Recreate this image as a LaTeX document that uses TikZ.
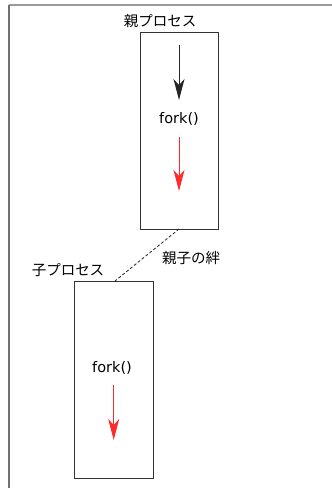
\documentclass[tikz,border=0pt]{standalone}
\usepackage{fontspec}
\setmainfont{DejaVu Sans}
\newfontfamily\jp{Noto Sans CJK JP}
\usetikzlibrary{arrows.meta}
\definecolor{arrred}{HTML}{FF2A2A}
\definecolor{framegray}{HTML}{707070}
\tikzset{
  procbox/.style={draw=black!80, line width=0.9pt, minimum width=78pt, inner sep=0pt},
  lbl/.style={font=\fontsize{14.5}{16}\selectfont\jp, inner sep=0pt, anchor=base},
  codelbl/.style={font=\fontsize{14.5}{16}\selectfont, inner sep=0pt, anchor=base},
  flow/.style={line width=1pt, -{Stealth[length=21pt, width=11pt, inset=6pt]}},
}
\begin{document}
\begin{tikzpicture}[x=1pt, y=-1pt]
\useasboundingbox (0,0) rectangle (332,488);
% frame
\coordinate (ftl) at (8.5,5);
\coordinate (ftr) at (332,5);
\coordinate (fbl) at (8.5,488);
\draw[framegray!70, line width=1.3pt] (ftl) -- (ftr);
\draw[framegray, line width=2pt] (ftl) -- (fbl);
% parent
\node[procbox, minimum height=197pt] (parent) at (179,130.5) {};
\node[lbl] (plabel) at (160,26) {親プロセス};
\coordinate (pa1) at (179,45);
\coordinate (pa2) at (179,100);
\draw[flow, black!85] (pa1) -- (pa2);
\node[codelbl] (pfork) at (179,123) {fork()};
\coordinate (pr1) at (179,137);
\coordinate (pr2) at (179,191);
\draw[flow, arrred] (pr1) -- (pr2);
% child
\node[procbox, minimum width=79pt, minimum height=197pt] (child) at (113.8,379.5) {};
\node[lbl] (clabel) at (68,275) {子プロセス};
\node[codelbl] (cfork) at (112,372) {fork()};
\coordinate (cr1) at (113.7,385);
\coordinate (cr2) at (113.7,440);
\draw[flow, arrred] (cr1) -- (cr2);
% bond
\coordinate (bp) at (179,229);
\coordinate (bc) at (115,281);
\draw[black!85, dashed, dash pattern=on 3pt off 2pt, line width=0.8pt] (bp) -- (bc);
\node[lbl] (bond) at (191,263) {親子の絆};
\end{tikzpicture}
\end{document}
